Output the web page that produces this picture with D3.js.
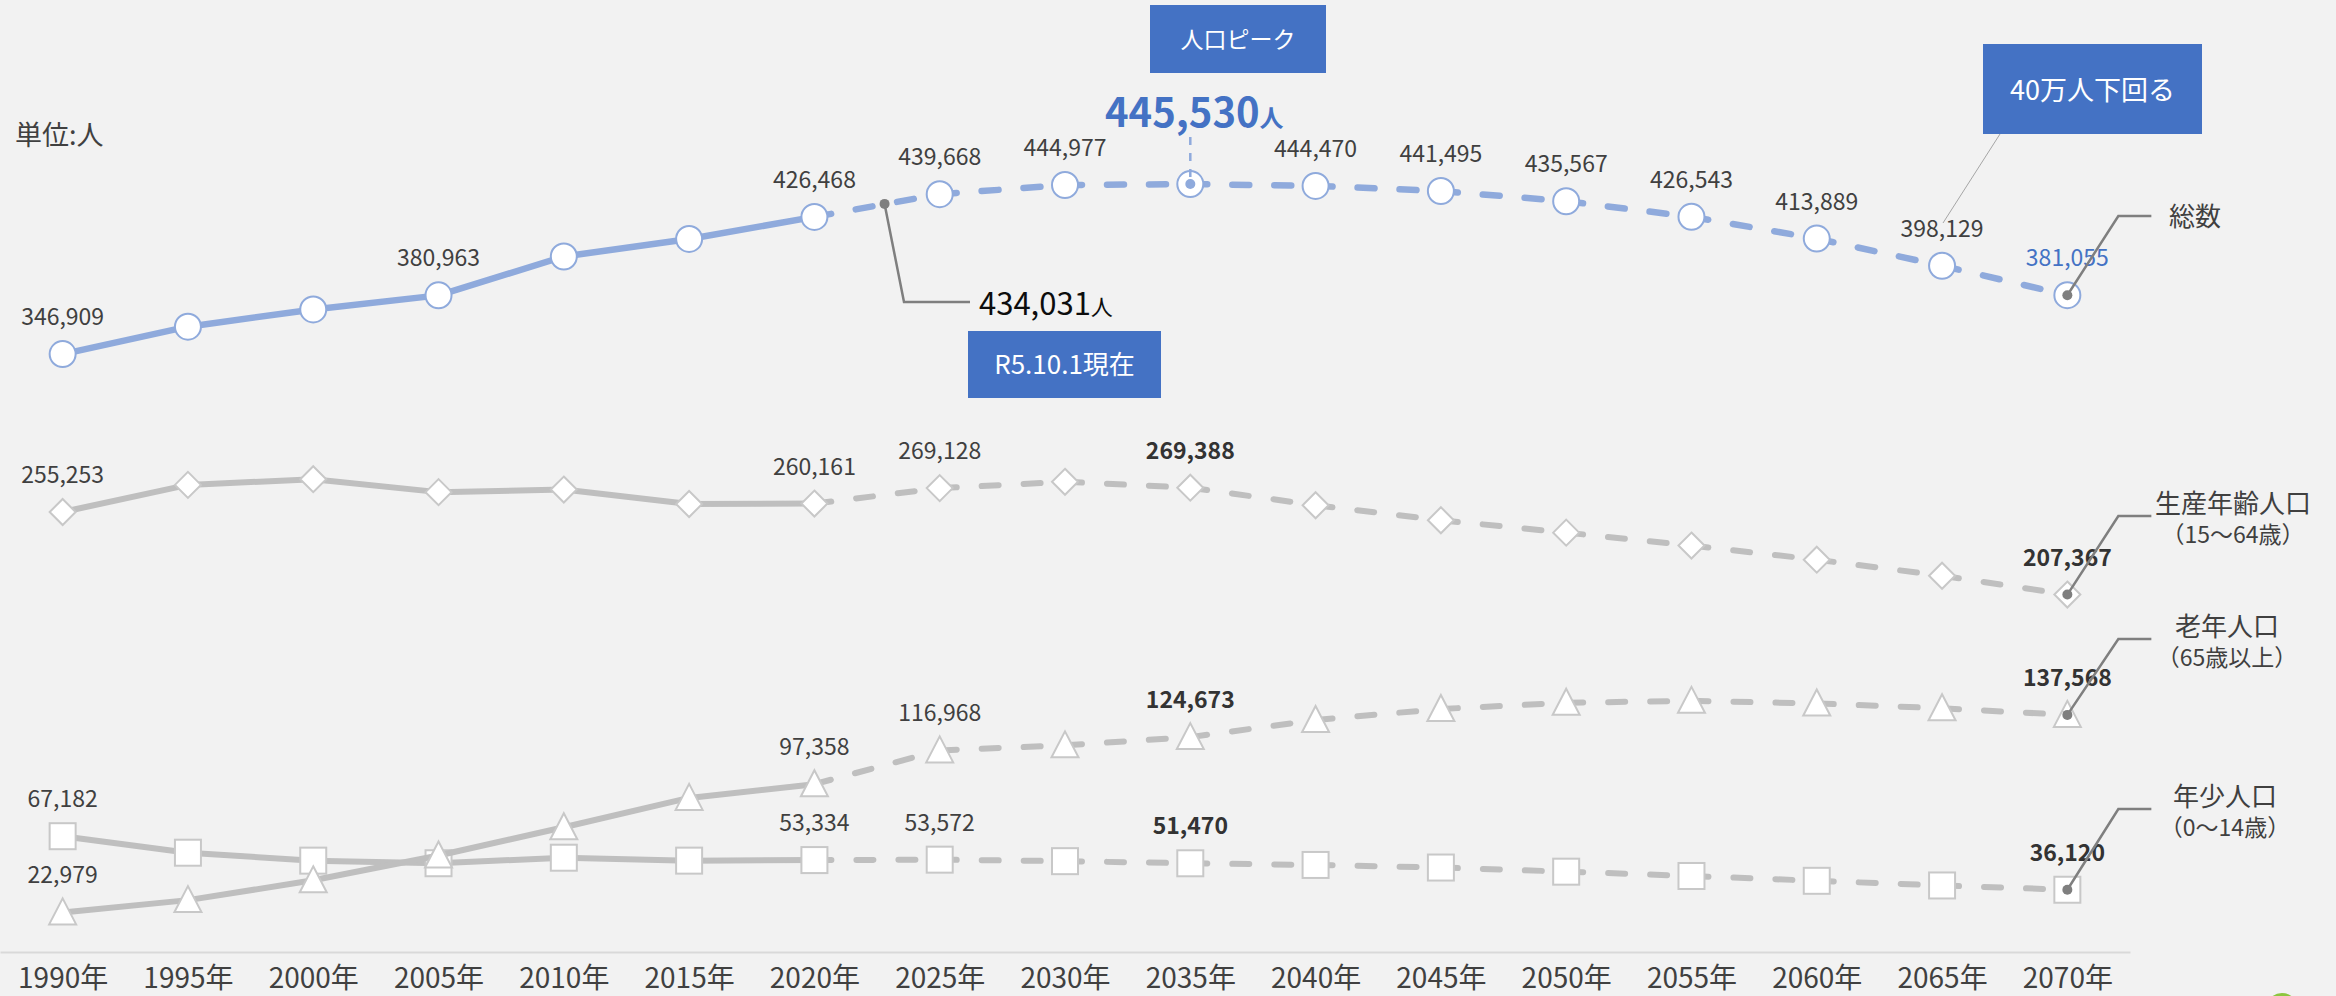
<!DOCTYPE html>
<html>
<head>
<meta charset="utf-8">
<script src="https://cdn.jsdelivr.net/npm/d3@7"></script>
<style>
  body { margin: 0; background: #F2F2F2; }
  svg text { font-family: "Noto Sans CJK JP", "Noto Sans", sans-serif; }
</style>
</head>
<body>
<div id="chart"></div>
<script>
// years and tick labels
var years = [1990, 1995, 2000, 2005, 2010, 2015, 2020, 2025, 2030, 2035, 2040, 2045, 2050, 2055, 2060, 2065, 2070];
var yearLabels = ["1990年", "1995年", "2000年", "2005年", "2010年", "2015年", "2020年", "2025年", "2030年",
                  "2035年", "2040年", "2045年", "2050年", "2055年", "2060年", "2065年", "2070年"];

// series values (unlabelled points)
var total   = [346909, 362800, 372800, 380963, 403500, 413700, 426468, 439668, 444977, 445530, 444470, 441495, 435567, 426543, 413889, 398129, 381055];
var working = [255253, 271000, 274300, 266800, 268300, 259900, 260161, 269128, 272800, 269388, 259200, 250500, 243300, 235800, 227600, 218300, 207367];
var elderly = [22979, 30100, 41600, 56000, 72400, 89400, 97358, 116968, 119900, 124673, 134600, 141000, 144600, 145700, 144200, 141400, 137568];
var youth   = [67182, 57600, 53000, 51500, 54700, 53000, 53334, 53572, 52700, 51470, 50500, 49000, 46600, 44100, 41300, 38600, 36120];

// last actual year (solid line up to here, dashed afterwards)
var lastActual = 2020;

// which points get a value label
var labelYears = {
  total:   [1990, 2005, 2020, 2025, 2030, 2040, 2045, 2050, 2055, 2060, 2065],
  working: [1990, 2020, 2025],
  elderly: [1990, 2020, 2025],
  youth:   [1990, 2020, 2025]
};
var boldYears = [2035, 2070];

// current estimate annotation
var currentYear = 2022.8, currentValue = 434031;
var peakYear = 2035;

var W = 2336, H = 996;
var svg = d3.select("#chart").append("svg")
    .attr("width", W).attr("height", H);

svg.append("rect").attr("width", W).attr("height", H).attr("fill", "#F2F2F2");

var x = d3.scalePoint().domain(years).range([0, 2130]).padding(0.5);
var xYear = d3.scaleLinear().domain([1990, 2070]).range([x(1990), x(2070)]);
var y = d3.scaleLinear().domain([0, 550000]).range([952, 4]);

var fmt = d3.format(",");

// x axis
var axis = svg.append("g")
    .attr("transform", "translate(0,952)")
    .call(d3.axisBottom(x).tickSize(0).tickSizeOuter(0)
          .tickFormat(function(d, i) { return yearLabels[i]; }));
axis.select(".domain").attr("stroke", "#D9D9D9").attr("stroke-width", 2);
axis.selectAll("text")
    .attr("y", 36).attr("dy", null)
    .attr("fill", "#404040")
    .style("font-size", "28px")
    .style("font-family", "'Noto Sans CJK JP', sans-serif");

// unit
svg.append("text").attr("x", 15).attr("y", 145)
    .attr("fill", "#404040").style("font-size", "27px").text("単位:人");

var iSplit = years.indexOf(lastActual);

function drawSeries(values, color, width, marker, stroke) {
  var g = svg.append("g");
  var pts = years.map(function(yr, i) { return [x(yr), y(values[i])]; });
  var line = d3.line();
  g.append("path")
      .attr("d", line(pts.slice(0, iSplit + 1)))
      .attr("fill", "none").attr("stroke", color).attr("stroke-width", width)
      .attr("stroke-linejoin", "round").attr("stroke-linecap", "round");
  // dashed part, pattern restarting at every point like the original
  for (var i = iSplit; i < pts.length - 1; i++) {
    g.append("path")
        .attr("d", line([pts[i], pts[i + 1]]))
        .attr("fill", "none").attr("stroke", color).attr("stroke-width", width)
        .attr("stroke-linecap", "round").attr("stroke-dasharray", "17 25");
  }
  pts.forEach(function(p) {
    var m;
    if (marker == "circle") {
      m = g.append("circle").attr("cx", p[0]).attr("cy", p[1]).attr("r", 13);
    } else if (marker == "diamond") {
      m = g.append("path").attr("d", "M" + p[0] + "," + (p[1] - 13) + "l13,13l-13,13l-13,-13z");
    } else if (marker == "square") {
      m = g.append("rect").attr("x", p[0] - 13).attr("y", p[1] - 13).attr("width", 26).attr("height", 26);
    } else {
      m = g.append("path").attr("d", "M" + p[0] + "," + (p[1] - 14) + "l13.5,26h-27z");
    }
    m.attr("fill", "#FFFFFF").attr("stroke", stroke).attr("stroke-width", 2);
  });
}

drawSeries(youth, "#BFBFBF", 6, "square", "#C8C8C8");
drawSeries(elderly, "#BFBFBF", 6, "triangle", "#C8C8C8");
drawSeries(working, "#BFBFBF", 6, "diamond", "#C8C8C8");
drawSeries(total, "#8FAADC", 6.5, "circle", "#8FAADC");

// value labels
function labels(values, key, withBold) {
  var yrs = labelYears[key].concat(withBold ? boldYears : []);
  yrs.forEach(function(yr) {
    var i = years.indexOf(yr);
    var bold = boldYears.indexOf(yr) >= 0;
    svg.append("text")
        .attr("x", x(yr)).attr("y", y(values[i]) - 29)
        .attr("text-anchor", "middle")
        .attr("fill", bold ? "#333333" : "#404040")
        .style("font-size", "23px")
        .style("font-weight", bold ? 600 : 400)
        .text(fmt(values[i]));
  });
}
labels(total, "total", false);
labels(working, "working", true);
labels(elderly, "elderly", true);
labels(youth, "youth", true);

// last total value in blue
var iLast = years.length - 1;
svg.append("text")
    .attr("x", x(2070)).attr("y", y(total[iLast]) - 29)
    .attr("text-anchor", "middle").attr("fill", "#4472C4")
    .style("font-size", "23px").text(fmt(total[iLast]));

// peak annotation
var iPeak = years.indexOf(peakYear);
var px = x(peakYear), py = y(total[iPeak]);
svg.append("line").attr("x1", px).attr("x2", px).attr("y1", 137).attr("y2", py)
    .attr("stroke", "#8FAADC").attr("stroke-width", 2.5).attr("stroke-dasharray", "8 8");
svg.append("circle").attr("cx", px).attr("cy", py).attr("r", 5).attr("fill", "#8FAADC");
var peakText = svg.append("text").attr("x", px + 4).attr("y", 127)
    .attr("text-anchor", "middle").attr("fill", "#4472C4");
peakText.append("tspan").style("font-size", "40px").style("font-weight", 700).text(fmt(total[iPeak]));
peakText.append("tspan").style("font-size", "24px").style("font-weight", 700).text("人");

function box(x0, y0, w, h, txt, size, base) {
  svg.append("rect").attr("x", x0).attr("y", y0).attr("width", w).attr("height", h).attr("fill", "#4472C4");
  svg.append("text").attr("x", x0 + w / 2).attr("y", base)
      .attr("text-anchor", "middle").attr("fill", "#FFFFFF")
      .style("font-size", size + "px").text(txt);
}
box(1150, 5, 176, 68, "人口ピーク", 23, 48);
box(968, 331, 193, 67, "R5.10.1現在", 26, 374);
box(1983, 44, 219, 90, "40万人下回る", 27, 100);

// thin leader from the 40万 box
svg.append("line").attr("x1", 2000).attr("y1", 134).attr("x2", 1943).attr("y2", 223)
    .attr("stroke", "#A6A6A6").attr("stroke-width", 1);

// current estimate callout
var cx = xYear(currentYear), cy = y(currentValue);
svg.append("path").attr("d", d3.line()([[cx, cy], [904, 302], [970, 302]]))
    .attr("fill", "none").attr("stroke", "#7F7F7F").attr("stroke-width", 2.5);
svg.append("circle").attr("cx", cx).attr("cy", cy).attr("r", 5).attr("fill", "#7F7F7F");
var curText = svg.append("text").attr("x", 979).attr("y", 315).attr("fill", "#0D0D0D");
curText.append("tspan").style("font-size", "31px").text(fmt(currentValue));
curText.append("tspan").style("font-size", "22px").text("人");

// series name callouts at 2070
var x70 = x(2070);
var callouts = [
  {v: total[iLast],   ly: 216, name: "総数", sub: null, tx: 2169, anchor: "start"},
  {v: working[iLast], ly: 516, name: "生産年齢人口", sub: "（15～64歳）", tx: 2233, anchor: "middle"},
  {v: elderly[iLast], ly: 639, name: "老年人口", sub: "（65歳以上）", tx: 2227, anchor: "middle"},
  {v: youth[iLast],   ly: 809, name: "年少人口", sub: "（0～14歳）", tx: 2225, anchor: "middle"}
];
callouts.forEach(function(c) {
  var vy = y(c.v);
  svg.append("path").attr("d", d3.line()([[x70, vy], [x70 + 51, c.ly], [x70 + 84, c.ly]]))
      .attr("fill", "none").attr("stroke", "#7F7F7F").attr("stroke-width", 2.5);
  svg.append("circle").attr("cx", x70).attr("cy", vy).attr("r", 5).attr("fill", "#7F7F7F");
  if (c.sub) {
    svg.append("text").attr("x", c.tx).attr("y", c.ly - 3).attr("text-anchor", c.anchor)
        .attr("fill", "#404040").style("font-size", "26px").text(c.name);
    svg.append("text").attr("x", c.tx).attr("y", c.ly + 27).attr("text-anchor", c.anchor)
        .attr("fill", "#404040").style("font-size", "23px").text(c.sub);
  } else {
    svg.append("text").attr("x", c.tx).attr("y", c.ly + 10).attr("text-anchor", c.anchor)
        .attr("fill", "#404040").style("font-size", "26px").text(c.name);
  }
});

// green mark peeking in at the bottom right corner
svg.append("circle").attr("cx", 2282).attr("cy", 1009).attr("r", 16).attr("fill", "#8CC63F");
</script>
</body>
</html>
